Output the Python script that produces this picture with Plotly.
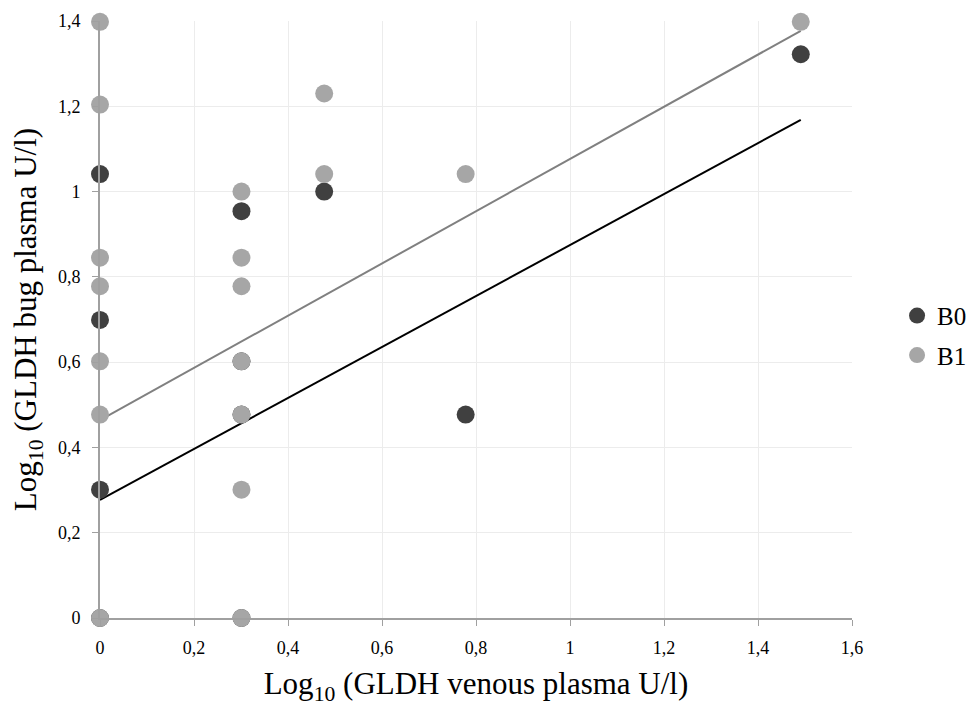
import plotly.graph_objects as go

# Data (log10 values)
b0_x = [0, 0, 0, 0, 0.301, 0.301, 0.301, 0.301, 0.477, 0.778, 1.491]
b0_y = [1.041, 0.699, 0.301, 0, 0.954, 0.602, 0.477, 0, 1.0, 0.477, 1.322]

b1_x = [0, 0, 0, 0, 0, 0, 0,
        0.301, 0.301, 0.301, 0.301, 0.301, 0.301, 0.301,
        0.477, 0.477, 0.778, 1.491]
b1_y = [1.398, 1.204, 0.845, 0.778, 0.602, 0.477, 0,
        1.0, 0.845, 0.778, 0.602, 0.477, 0.301, 0,
        1.230, 1.041, 1.041, 1.398]

# Linear trend lines (endpoints)
trend_x = [0, 1.491]
trend_b0_y = [0.277, 1.168]
trend_b1_y = [0.464, 1.377]

x_ticks = [0, 0.2, 0.4, 0.6, 0.8, 1.0, 1.2, 1.4, 1.6]
y_ticks = [0, 0.2, 0.4, 0.6, 0.8, 1.0, 1.2, 1.4]

C_B0 = "#404040"
C_B1 = "#a6a6a6"
FONT = "Liberation Serif"

fig = go.Figure()
fig.add_trace(go.Scatter(x=trend_x, y=trend_b0_y, mode="lines",
                         line=dict(color="#000000", width=2),
                         showlegend=False, hoverinfo="skip"))
fig.add_trace(go.Scatter(x=trend_x, y=trend_b1_y, mode="lines",
                         line=dict(color="#808080", width=2),
                         showlegend=False, hoverinfo="skip"))
fig.add_trace(go.Scatter(x=b0_x, y=b0_y, mode="markers", name="B0",
                         legendgroup="b0",
                         marker=dict(color=C_B0, size=18, line=dict(width=0)),
                         cliponaxis=False))
fig.add_trace(go.Scatter(x=b1_x, y=b1_y, mode="markers", name="B1",
                         legendgroup="b1",
                         marker=dict(color=C_B1, size=18, line=dict(width=0)),
                         cliponaxis=False))

fig.update_layout(
    width=974, height=706,
    margin=dict(l=100, r=122, t=21, b=88, autoexpand=False),
    paper_bgcolor="white", plot_bgcolor="white",
    separators=", ",
    font=dict(family=FONT, color="#000000", size=18),
    legend=dict(xref="container", yref="container",
                x=0.921, y=0.525, xanchor="left", yanchor="middle",
                font=dict(size=25, family=FONT), traceorder="grouped",
                tracegroupgap=4, itemwidth=30,
                bgcolor="rgba(0,0,0,0)"),
    xaxis=dict(range=[0, 1.6], tickvals=x_ticks, showgrid=True,
               gridcolor="#ececec", gridwidth=1, zeroline=False,
               showline=True, linecolor="#a0a0a0", linewidth=2,
               ticks="outside", ticklen=6, tickcolor="#a0a0a0",
               ticklabelstandoff=6,
               tickfont=dict(size=18, family=FONT),
               title=dict(text="Log<sub>10</sub> (GLDH venous plasma U/l)",
                          font=dict(size=31, family=FONT), standoff=16)),
    yaxis=dict(range=[0, 1.4], tickvals=y_ticks, showgrid=True,
               gridcolor="#ececec", gridwidth=1, zeroline=False,
               showline=True, linecolor="#a0a0a0", linewidth=2,
               ticks="outside", ticklen=6, tickcolor="#a0a0a0",
               ticklabelstandoff=8,
               tickfont=dict(size=18, family=FONT),
               title=dict(text="Log<sub>10</sub> (GLDH bug plasma U/l)",
                          font=dict(size=31, family=FONT), standoff=12)),
)

fig.write_html("out.html")
